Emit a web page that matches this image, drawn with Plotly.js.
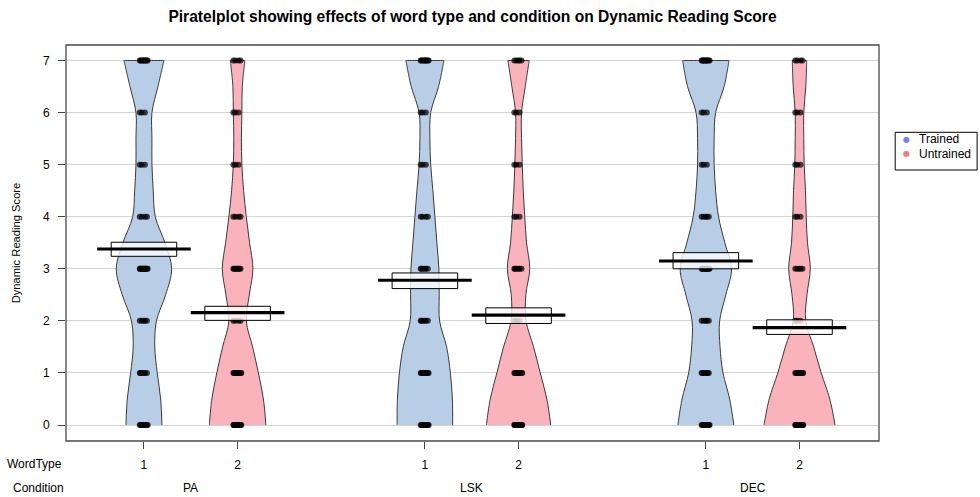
<!DOCTYPE html>
<html><head><meta charset="utf-8">
<script src="https://cdn.plot.ly/plotly-3.0.1.min.js"></script>
<style>html,body{margin:0;padding:0;background:#fff}#chart{width:980px;height:497px}</style>
</head><body><div id="chart"></div>
<script>
// ---------------- data ----------------
const conditions = ["PA", "LSK", "DEC"];
const conditionPos = [1.5, 4.5, 7.5];
const wordTypeLabels = ["1", "2", "1", "2", "1", "2"];
const beanPos = [1, 2, 4, 5, 7, 8];
const beanGroup = ["Trained", "Untrained", "Trained", "Untrained", "Trained", "Untrained"];
const scoreLevels = [0, 1, 2, 3, 4, 5, 6, 7];
const yTicks = [0, 1, 2, 3, 4, 5, 6, 7];

// density profile levels (score) and bean half-widths
const densityLevels = [0, 0.5, 1, 1.5, 2, 2.5, 3, 3.5, 4, 4.5, 5, 5.5, 6, 6.5, 7];
const densPA1  = [18, 16.7, 13.3, 10.8, 12.5, 21.7, 27.7, 21, 11.3, 9.3, 8, 8, 8, 14, 20];
const densPA2  = [28.3, 25.8, 20.8, 15, 8.7, 11.7, 15.3, 12, 8.7, 6, 4.3, 3.8, 4.3, 4.7, 7.3];
const densLSK1 = [27.8, 27.5, 25.5, 21.7, 14.7, 14.3, 14, 12, 10, 8, 5.8, 5, 5.8, 13.7, 19];
const densLSK2 = [32.2, 28.3, 21.7, 15, 7.5, 7.3, 11.2, 8, 6.2, 4.7, 3.7, 3, 3, 6.7, 10.7];
const densDEC1 = [28, 23.8, 17.2, 14.2, 13.8, 20, 25.7, 19, 12.7, 9.8, 8.3, 8.3, 9.8, 18.3, 23.2];
const densDEC2 = [35.5, 30.3, 21.7, 14.2, 6.2, 7.5, 10.8, 8, 6.7, 6, 4.7, 4.3, 4.3, 6.3, 7.2];

// estimated number of responses at each score 0..7
const countsPA1  = [9, 6, 5, 14, 4, 3, 3, 10];
const countsPA2  = [16, 10, 4, 8, 4, 3, 3, 4];
const countsLSK1 = [13, 11, 6, 6, 4, 3, 3, 10];
const countsLSK2 = [17, 10, 3, 6, 3, 3, 3, 5];
const countsDEC1 = [12, 7, 5, 12, 5, 3, 3, 11];
const countsDEC2 = [19, 10, 3, 5, 3, 3, 3, 4];

// means and inference band limits
const means  = [3.38, 2.16, 2.78, 2.11, 3.15, 1.87];
const ciLow  = [3.24, 2.01, 2.62, 1.95, 3.00, 1.74];
const ciHigh = [3.51, 2.28, 2.92, 2.25, 3.31, 2.02];

// ---------------- styling ----------------
const densAll = [densPA1, densPA2, densLSK1, densLSK2, densDEC1, densDEC2];
const countsAll = [countsPA1, countsPA2, countsLSK1, countsLSK2, countsDEC1, countsDEC2];
const densToX = 1 / 93.7;
const fillCol = {Trained: "rgb(184,206,231)", Untrained: "rgb(250,179,187)"};
const legendCol = {Trained: "rgb(118,128,245)", Untrained: "rgb(246,122,124)"};
const FONT = "Liberation Sans, Arial, Helvetica, sans-serif";
const boxHalf = 0.35, lineHalf = 0.5, jitterAmt = 0.045;

const traces = [];
// beans
beanPos.forEach((p, i) => {
  const d = densAll[i];
  const xs = [], ys = [];
  for (let k = 0; k < densityLevels.length; k++) { xs.push(p + d[k] * densToX); ys.push(densityLevels[k]); }
  const top = densityLevels.length - 1;
  xs.push(p + d[top] * densToX); ys.push(densityLevels[top]);
  xs.push(p - d[top] * densToX); ys.push(densityLevels[top]);
  for (let k = top; k >= 0; k--) { xs.push(p - d[k] * densToX); ys.push(densityLevels[k]); }
  xs.push(p - d[0] * densToX); ys.push(densityLevels[0]);
  traces.push({
    type: "scatter", mode: "lines", x: xs, y: ys, fill: "toself",
    fillcolor: fillCol[beanGroup[i]],
    line: {color: "#3a3a3a", width: 1, shape: "spline", smoothing: 1, simplify: false},
    hoverinfo: "skip", showlegend: false
  });
});
// points
beanPos.forEach((p, i) => {
  const xs = [], ys = [];
  scoreLevels.forEach((s, j) => {
    const c = countsAll[i][j];
    for (let n = 0; n < c; n++) {
      const u = ((n * 0.6180339887) % 1) * 2 - 1;
      xs.push(p + u * jitterAmt); ys.push(s);
    }
  });
  traces.push({
    type: "scatter", mode: "markers", x: xs, y: ys,
    marker: {size: 6, color: "rgba(0,0,0,0.7)", line: {width: 0}},
    hoverinfo: "skip", showlegend: false
  });
});
// inference bands
beanPos.forEach((p, i) => {
  traces.push({
    type: "scatter", mode: "lines",
    x: [p - boxHalf, p + boxHalf, p + boxHalf, p - boxHalf, p - boxHalf],
    y: [ciLow[i], ciLow[i], ciHigh[i], ciHigh[i], ciLow[i]],
    fill: "toself", fillcolor: "rgba(255,255,255,0.78)",
    line: {color: "#000", width: 1}, hoverinfo: "skip", showlegend: false
  });
});
// mean lines
beanPos.forEach((p, i) => {
  traces.push({
    type: "scatter", mode: "lines",
    x: [p - lineHalf, p + lineHalf], y: [means[i], means[i]],
    line: {color: "#000", width: 3.2}, hoverinfo: "skip", showlegend: false
  });
});

// ---------------- layout ----------------
const plotL = 66, plotT = 45, plotB = 441, plotR = 879.5;
const plotH = plotB - plotT, plotW = plotR - plotL;
const px2py = y => (plotB - y) / plotH;
const px2px = x => (x - plotL) / plotW;

const annotations = [
  {text: "WordType", xref: "paper", yref: "paper", x: px2px(64), y: px2py(464), xanchor: "right", yanchor: "middle", showarrow: false, font: {size: 12, color: "#000"}},
  {text: "Condition", xref: "paper", yref: "paper", x: px2px(66), y: px2py(488), xanchor: "right", yanchor: "middle", showarrow: false, font: {size: 12, color: "#000"}}
];
conditions.forEach((c, i) => annotations.push({
  text: c, xref: "x", yref: "paper", x: conditionPos[i], y: px2py(488),
  xanchor: "center", yanchor: "middle", showarrow: false, font: {size: 12, color: "#000"}
}));
const legendNames = ["Trained", "Untrained"];
const legendRows = [139.3, 153.7];
legendNames.forEach((nm, i) => {
  annotations.push({text: "●", xref: "paper", yref: "paper", x: px2px(907.5), y: px2py(legendRows[i]),
    xanchor: "center", yanchor: "middle", showarrow: false, font: {size: 8, color: legendCol[nm], family: "DejaVu Sans"}});
  annotations.push({text: nm, xref: "paper", yref: "paper", x: px2px(918), y: px2py(legendRows[i]),
    xanchor: "left", yanchor: "middle", showarrow: false, font: {size: 12, color: "#000"}});
});

const layout = {
  width: 980, height: 497,
  margin: {l: plotL, r: 980 - plotR, t: plotT, b: 497 - plotB, pad: 0},
  paper_bgcolor: "#fff", plot_bgcolor: "#fff",
  font: {family: FONT, size: 12, color: "#000"},
  showlegend: false,
  title: {text: "<b>Piratelplot showing effects of word type and condition on Dynamic Reading Score</b>",
    font: {size: 15.6, family: FONT, color: "#000"}, xref: "paper", x: 0.5, xanchor: "center",
    yref: "container", y: 1 - 17 / 497, yanchor: "middle"},
  xaxis: {range: [0.1676, 8.849], tickmode: "array", tickvals: beanPos, ticktext: wordTypeLabels,
    ticks: "outside", ticklen: 7, tickcolor: "#444", tickwidth: 1, showgrid: false, zeroline: false,
    showline: false, tickfont: {size: 12, color: "#000"}, ticklabelstandoff: 6, fixedrange: true},
  yaxis: {range: [-0.307, 7 + (60.5 - plotT) / 52.07], tickmode: "array", tickvals: yTicks,
    ticks: "outside", ticklen: 7, tickcolor: "#444", tickwidth: 1, showgrid: true, gridcolor: "#d4d4d4",
    gridwidth: 1, zeroline: false, showline: false, tickfont: {size: 12, color: "#000"},
    ticklabelstandoff: 6,
    title: {text: "Dynamic Reading Score", font: {size: 11.2, color: "#000"}, standoff: 19}, fixedrange: true},
  shapes: [
    {type: "rect", xref: "paper", yref: "paper", x0: 0, x1: 1, y0: 0, y1: 1, line: {color: "#4a4a4a", width: 1.3}, layer: "above"},
    {type: "rect", xref: "paper", yref: "paper", x0: px2px(895.7), x1: px2px(977.7), y0: px2py(170), y1: px2py(132.3), line: {color: "#000", width: 1}, fillcolor: "#fff", layer: "above"}
  ],
  annotations: annotations
};

Plotly.newPlot("chart", traces, layout, {staticPlot: true, displayModeBar: false});
</script>
</body></html>
